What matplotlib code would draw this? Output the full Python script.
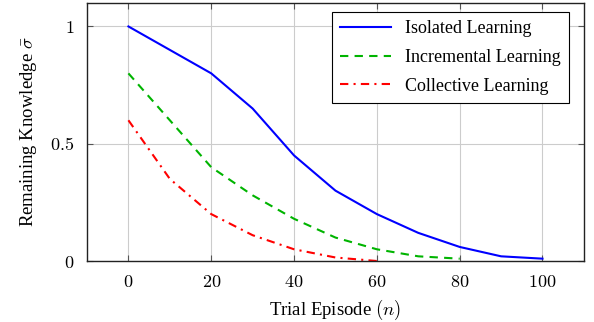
import matplotlib.pyplot as plt

plt.rcParams["font.family"] = "Liberation Serif"
plt.rcParams["mathtext.fontset"] = "cm"

episodes_iso = [0, 10, 20, 30, 40, 50, 60, 70, 80, 90, 100]
isolated = [1.0, 0.9, 0.8, 0.65, 0.45, 0.3, 0.2, 0.12, 0.06, 0.02, 0.01]

episodes_inc = [0, 10, 20, 30, 40, 50, 60, 70, 80]
incremental = [0.8, 0.6, 0.4, 0.28, 0.18, 0.1, 0.05, 0.02, 0.01]

episodes_col = [0, 10, 20, 30, 40, 50, 60]
collective = [0.6, 0.35, 0.2, 0.11, 0.05, 0.015, 0.0]

x_ticks = [0, 20, 40, 60, 80, 100]
x_tick_labels = ["$0$", "$20$", "$40$", "$60$", "$80$", "$100$"]
y_ticks = [0, 0.5, 1]
y_tick_labels = ["$0$", "$0.5$", "$1$"]


def main():
    fig = plt.figure(figsize=(5.94, 3.22), dpi=100)
    ax = fig.add_axes([0.1465, 0.1894, 0.8365, 0.8013])

    ax.plot(episodes_iso, isolated, color="#0000ff", linewidth=1.5,
            label="Isolated Learning")
    ax.plot(episodes_inc, incremental, color="#00b400", linewidth=1.5,
            dashes=(4, 3), label="Incremental Learning")
    ax.plot(episodes_col, collective, color="#ff0000", linewidth=1.5,
            dashes=(4, 2.5, 1, 2.5), label="Collective Learning")

    ax.set_xlim(-10, 110)
    ax.set_ylim(0, 1.1)
    ax.set_xticks(x_ticks)
    ax.set_xticklabels(x_tick_labels)
    ax.set_yticks(y_ticks)
    ax.set_yticklabels(y_tick_labels)
    ax.tick_params(direction="in", length=4, color="#555555",
                   labelsize=13, top=True, right=True)
    ax.tick_params(axis="x", pad=9)
    ax.tick_params(axis="y", pad=9)
    ax.grid(True, color="#cccccc", linewidth=0.8)
    ax.set_axisbelow(True)
    for s in ax.spines.values():
        s.set_color("#222222")
        s.set_linewidth(1.0)

    ax.set_xlabel("Trial Episode $(n)$", fontsize=13.5, labelpad=5)
    ax.set_ylabel(r"Remaining Knowledge $\bar{\sigma}$", fontsize=13.5,
                  labelpad=8)

    leg = ax.legend(loc="upper right", fontsize=13, fancybox=False,
                    framealpha=1, edgecolor="black",
                    bbox_to_anchor=(0.988, 1.0),
                    handlelength=2.8, labelspacing=0.65, borderpad=0.45)
    leg.get_frame().set_linewidth(0.8)

    fig.savefig("out.png", dpi=100)


if __name__ == "__main__":
    main()
